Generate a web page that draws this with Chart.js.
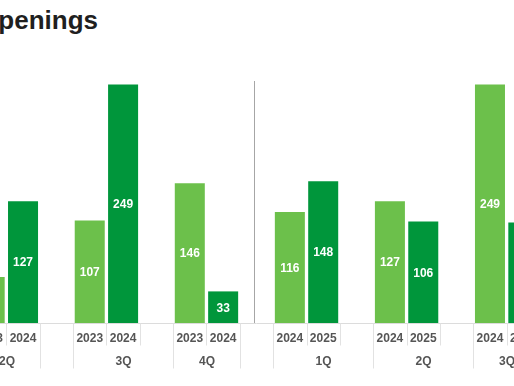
<!DOCTYPE html>
<html>
<head>
<meta charset="utf-8">
<script src="https://cdn.jsdelivr.net/npm/chart.js@4"></script>
<style>
  html, body {
    margin: 0;
    padding: 0;
    background: #ffffff;
  }
  body {
    position: relative;
    width: 514px;
    height: 386px;
    overflow: hidden;
  }
  #title {
    position: absolute;
    right: 416px;
    top: 7px;
    font: bold 26px "Liberation Sans", Arial, sans-serif;
    line-height: 26px;
    color: #1f1f1f;
    white-space: nowrap;
  }
  #wrap {
    position: absolute;
    left: -27px;
    top: 0;
    width: 567px;
    height: 386px;
  }
</style>
</head>
<body>
<div id="title">Store Openings</div>
<div id="wrap"><canvas id="chart"></canvas></div>
<script>
// one slot per bar, empty slots are the gaps between quarters
const yearLabels = ["2023", "2024", "", "2023", "2024", "", "2023", "2024", "", "2024", "2025", "", "2024", "2025", "", "2024", "2025"];
const priorYear = [48, null, null, 107, null, null, 146, null, null, 116, null, null, 127, null, null, 249, null];
const currentYear = [null, 127, null, null, 249, null, null, 33, null, null, 148, null, null, 106, null, null, 105];

// quarter groups: label, first slot, number of slots
const quarterLabels = ["2Q", "3Q", "4Q", "1Q", "2Q", "3Q"];
const quarterStart = [0, 3, 6, 9, 12, 15];
const quarterSpan = [2, 3, 2, 3, 3, 2];

const dividerSlot = 8; // between 2024 and 2025 comparisons

const LIGHT_GREEN = "#6cc04b";
const DARK_GREEN = "#00963b";
const FONT = "'Liberation Sans', Arial, sans-serif";

const valueLabels = {
  id: "valueLabels",
  afterDatasetsDraw(chart) {
    const ctx = chart.ctx;
    ctx.save();
    ctx.fillStyle = "#ffffff";
    ctx.font = `bold 12px ${FONT}`;
    ctx.textAlign = "center";
    ctx.textBaseline = "middle";
    chart.data.datasets.forEach((ds, di) => {
      chart.getDatasetMeta(di).data.forEach((bar, i) => {
        const v = ds.data[i];
        if (v == null) return;
        ctx.fillText(String(v), bar.x, (bar.y + bar.base) / 2 + 1);
      });
    });
    ctx.restore();
  },
};

const categoryAxis = {
  id: "categoryAxis",
  afterDraw(chart) {
    const ctx = chart.ctx;
    const x = chart.scales.x;
    const area = chart.chartArea;
    const slot = x.width / yearLabels.length;
    const base = area.bottom + 0.5;
    const edge = (i) => Math.round(x.getPixelForValue(i) - slot / 2) + 0.5;

    ctx.save();
    ctx.lineWidth = 1;

    // divider between the two comparisons
    ctx.strokeStyle = "#a6a6a6";
    const dx = Math.round(x.getPixelForValue(dividerSlot) - 3) + 0.5;
    ctx.beginPath();
    ctx.moveTo(dx, area.top + 7);
    ctx.lineTo(dx, area.bottom);
    ctx.stroke();

    // baseline
    ctx.strokeStyle = "#dcdcdc";
    ctx.beginPath();
    ctx.moveTo(0, base);
    ctx.lineTo(chart.width, base);
    ctx.stroke();

    // separators: long at quarter edges, short inside a quarter
    const longEdges = new Set();
    quarterStart.forEach((s, q) => {
      longEdges.add(s);
      longEdges.add(s + quarterSpan[q]);
    });
    ctx.strokeStyle = "#e2e2e2";
    for (let i = 0; i <= yearLabels.length; i++) {
      const ex = edge(i);
      ctx.beginPath();
      ctx.moveTo(ex, base);
      ctx.lineTo(ex, longEdges.has(i) ? base + 45 : base + 22);
      ctx.stroke();
    }

    ctx.fillStyle = "#555555";
    ctx.font = `bold 12px ${FONT}`;
    ctx.textAlign = "center";
    ctx.textBaseline = "middle";
    yearLabels.forEach((lab, i) => {
      if (lab) ctx.fillText(lab, x.getPixelForValue(i), base + 15);
    });
    quarterLabels.forEach((lab, q) => {
      const mid = (edge(quarterStart[q]) + edge(quarterStart[q] + quarterSpan[q])) / 2;
      ctx.fillText(lab, mid, base + 38.5);
    });
    ctx.restore();
  },
};

new Chart(document.getElementById("chart"), {
  type: "bar",
  data: {
    labels: yearLabels.map((_, i) => i),
    datasets: [
      {
        label: "Prior year",
        data: priorYear,
        backgroundColor: LIGHT_GREEN,
        barPercentage: 0.9,
        categoryPercentage: 1,
      },
      {
        label: "Current year",
        data: currentYear,
        backgroundColor: DARK_GREEN,
        barPercentage: 0.9,
        categoryPercentage: 1,
      },
    ],
  },
  options: {
    responsive: true,
    maintainAspectRatio: false,
    animation: false,
    devicePixelRatio: 1,
    layout: { padding: { top: 74, bottom: 63, left: 0, right: 0 } },
    plugins: {
      legend: { display: false },
      tooltip: { enabled: false },
    },
    scales: {
      x: { stacked: true, display: false },
      y: { stacked: true, display: false, min: 0, max: 260 },
    },
  },
  plugins: [valueLabels, categoryAxis],
});
</script>
</body>
</html>
